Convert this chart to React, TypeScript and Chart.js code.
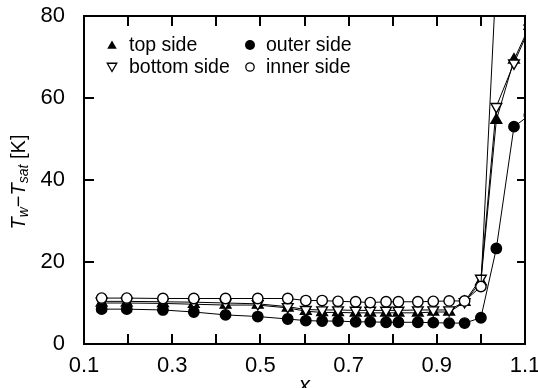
import React, { useEffect, useRef } from "react";
import { Chart, registerables } from "chart.js";

Chart.register(...registerables);

// ---- data ----
const xValues = [0.14, 0.197, 0.279, 0.349, 0.421, 0.494, 0.562, 0.603, 0.64, 0.676, 0.716, 0.749, 0.785, 0.813, 0.857, 0.892, 0.928, 0.963, 1.0, 1.035, 1.075, 1.11];
const topSide = [10.0, 10.0, 9.9, 9.7, 9.5, 9.5, 8.8, 8.0, 7.7, 7.7, 7.6, 7.6, 7.6, 7.6, 7.6, 7.8, 7.8, 10.2, 15.2, 54.6, 69.3, 77.5];
const bottomSide = [10.4, 10.4, 10.3, 10.2, 10.0, 9.8, 9.1, 8.4, 8.3, 8.3, 8.2, 8.2, 8.2, 8.2, 8.3, 8.3, 8.3, 10.3, 16.0, 57.9, 68.5, 77.0];
const outerSide = [8.5, 8.5, 8.3, 7.8, 7.1, 6.7, 6.1, 5.7, 5.6, 5.6, 5.4, 5.4, 5.3, 5.3, 5.3, 5.2, 5.1, 5.1, 6.4, 23.3, 53.0, 55.8];
const innerSide = [11.2, 11.2, 11.1, 11.1, 11.1, 11.1, 11.1, 10.6, 10.6, 10.4, 10.3, 10.1, 10.3, 10.3, 10.3, 10.4, 10.5, 10.5, 14.0, 90.0];

const xTickValues = [0.1, 0.3, 0.5, 0.7, 0.9, 1.1];
const xTickLabels = ["0.1", "0.3", "0.5", "0.7", "0.9", "1.1"];
const xMinorTicks = [0.2, 0.4, 0.6, 0.8, 1.0];
const yTickValues = [0, 20, 40, 60, 80];
const legendLabels = ["top side", "outer side", "bottom side", "inner side"];
const xAxisTitle = "x";

const FONT = '"Liberation Sans", Arial, Helvetica, sans-serif';

const toPoints = (ys: number[]) => ys.map((y, i) => ({ x: xValues[i], y }));

function drawMarker(ctx: CanvasRenderingContext2D, kind: string, x: number, y: number, r: number) {
  ctx.save();
  ctx.lineWidth = 1.3;
  ctx.strokeStyle = "#000";
  ctx.beginPath();
  if (kind === "tri" || kind === "invtri") {
    const s = kind === "tri" ? 1 : -1;
    ctx.moveTo(x, y - s * r);
    ctx.lineTo(x + r * 0.866, y + s * r * 0.5);
    ctx.lineTo(x - r * 0.866, y + s * r * 0.5);
    ctx.closePath();
  } else {
    ctx.arc(x, y, r, 0, Math.PI * 2);
  }
  if (kind === "tri" || kind === "dot") {
    ctx.fillStyle = "#000";
    ctx.fill();
  } else {
    ctx.fillStyle = "#fff";
    ctx.fill();
    ctx.stroke();
  }
  ctx.restore();
}

const framePlugin = {
  id: "frame",
  afterDraw(chart: any) {
    const ctx: CanvasRenderingContext2D = chart.ctx;
    const area = chart.chartArea;
    const left = area.left;
    const right = area.right;
    const top = area.top;
    const bottom = area.bottom;
    const xs = chart.scales.x;
    const ys = chart.scales.y;
    ctx.save();
    // box
    ctx.strokeStyle = "#000";
    ctx.lineWidth = 2;
    ctx.strokeRect(left, top, right - left, bottom - top);

    // ticks (inward)
    ctx.fillStyle = "#000";
    const tl = 10;
    const allX = xTickValues.concat(xMinorTicks);
    for (const v of allX) {
      const px = Math.round(xs.getPixelForValue(v));
      ctx.fillRect(px - 1, bottom - tl, 2, tl);
      ctx.fillRect(px - 1, top, 2, tl);
    }
    for (const v of yTickValues) {
      const py = Math.round(ys.getPixelForValue(v));
      ctx.fillRect(left, py - 1, tl, 2);
      ctx.fillRect(right - 8, py - 1, 8, 2);
    }

    // legend
    ctx.fillStyle = "#000";
    ctx.font = "19.5px " + FONT;
    ctx.textBaseline = "middle";
    ctx.textAlign = "left";
    const kinds = ["tri", "dot", "invtri", "ring"];
    const colX = [112, 250];
    const textX = [129, 266];
    const rowY = [45, 67];
    legendLabels.forEach((lab, i) => {
      const c = i % 2;
      const r = Math.floor(i / 2);
      const k = kinds[i];
      const rad = k === "tri" || k === "invtri" ? 5.5 : k === "dot" ? 5 : 4.2;
      drawMarker(ctx, k, colX[c], rowY[r] + (k === "tri" ? 1 : k === "invtri" ? -1 : 0), rad);
      ctx.fillText(lab, textX[c], rowY[r] + 1);
    });

    // y axis title: T_w − T_sat [K]
    ctx.save();
    ctx.translate(25, 182);
    ctx.rotate(-Math.PI / 2);
    const parts = [
      { t: "T", f: "italic 20px " + FONT, dy: 0 },
      { t: "w", f: "italic 14px " + FONT, dy: 3 },
      { t: "\u2212", f: "20px " + FONT, dy: 0 },
      { t: "T", f: "italic 20px " + FONT, dy: 0 },
      { t: "sat", f: "italic 14px " + FONT, dy: 3 },
      { t: " [K]", f: "20px " + FONT, dy: 0 },
    ];
    let total = 0;
    const widths = parts.map((p) => {
      ctx.font = p.f;
      const w = ctx.measureText(p.t).width;
      total += w;
      return w;
    });
    let cx = -total / 2;
    ctx.textBaseline = "alphabetic";
    parts.forEach((p, i) => {
      ctx.font = p.f;
      ctx.fillText(p.t, cx, p.dy);
      cx += widths[i];
    });
    ctx.restore();

    // x axis title
    ctx.font = "italic 22px " + FONT;
    ctx.textAlign = "center";
    ctx.textBaseline = "alphabetic";
    ctx.fillText(xAxisTitle, (left + right) / 2, 392);
    ctx.restore();
  },
};

export default function App() {
  const canvasRef = useRef<HTMLCanvasElement | null>(null);

  useEffect(() => {
    if (!canvasRef.current) return;
    const common = {
      borderColor: "#000",
      borderWidth: 1,
      pointBorderColor: "#000",
      pointBorderWidth: 1.4,
      showLine: true,
      tension: 0,
    };
    const chart = new Chart(canvasRef.current, {
      type: "scatter",
      data: {
        datasets: [
          {
            ...common,
            label: "inner side",
            data: toPoints(innerSide),
            pointStyle: "circle",
            pointRadius: 5.2,
            pointBackgroundColor: "#fff",
            order: 0,
          },
          {
            ...common,
            label: "outer side",
            data: toPoints(outerSide),
            pointStyle: "circle",
            pointRadius: 5.2,
            pointBackgroundColor: "#000",
            order: 1,
          },
          {
            ...common,
            label: "bottom side",
            data: toPoints(bottomSide),
            pointStyle: "triangle",
            pointRotation: 180,
            pointRadius: 6.2,
            pointBackgroundColor: "#fff",
            order: 2,
          },
          {
            ...common,
            label: "top side",
            data: toPoints(topSide),
            pointStyle: "triangle",
            pointRadius: 6.2,
            pointBackgroundColor: "#000",
            order: 3,
          },
        ],
      },
      options: {
        responsive: false,
        animation: false,
        layout: { padding: { top: 16, right: 13, left: 0, bottom: 0 } },
        plugins: {
          legend: { display: false },
          tooltip: { enabled: false },
        },
        scales: {
          x: {
            type: "linear",
            min: 0.1,
            max: 1.1,
            grid: { display: false },
            border: { display: false },
            afterBuildTicks: (scale: any) => {
              scale.ticks = xTickValues.map((v) => ({ value: v }));
            },
            afterFit: (scale: any) => {
              scale.height = 44;
              scale.paddingLeft = 0;
              scale.paddingRight = 0;
            },
            ticks: {
              padding: 1,
              color: "#000",
              maxRotation: 0,
              autoSkip: false,
              font: { family: FONT, size: 22 },
              callback: (value: any, index: number) => xTickLabels[index],
            },
          },
          y: {
            type: "linear",
            min: 0,
            max: 80,
            grid: { display: false },
            border: { display: false },
            afterBuildTicks: (scale: any) => {
              scale.ticks = yTickValues.map((v) => ({ value: v }));
            },
            afterFit: (scale: any) => {
              scale.width = 84;
              scale.paddingTop = 0;
              scale.paddingBottom = 0;
            },
            ticks: {
              padding: 11,
              color: "#000",
              font: { family: FONT, size: 22 },
              callback: (value: any) => String(value),
            },
          },
        },
      },
      plugins: [framePlugin],
    } as any);
    return () => chart.destroy();
  }, []);

  return (
    <div style={{ position: "absolute", left: 0, top: 0, width: 538, height: 388, background: "#fff" }}>
      <canvas ref={canvasRef} width={538} height={388} style={{ display: "block" }} />
    </div>
  );
}
